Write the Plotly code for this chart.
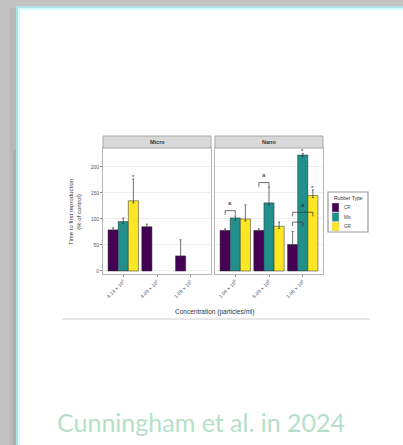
import plotly.graph_objects as go

W, H = 403, 445

# ---- data -------------------------------------------------------------
rubber_types = ["CR", "Mix", "GR"]
rubber_colors = ["#440154", "#21908C", "#FDE725"]

micro_conc = ["4.13 × 10<sup>3</sup>", "4.09 × 10<sup>4</sup>", "1.09 × 10<sup>5</sup>"]
nano_conc = ["1.06 × 10<sup>8</sup>", "5.09 × 10<sup>8</sup>", "1.06 × 10<sup>9</sup>"]

# time to first reproduction (% of control), one list per rubber type
micro_values = {
    "CR": [79, 85, 29],
    "Mix": [95, None, None],
    "GR": [135, None, None],
}
micro_err_up = {"CR": [4, 5, 31], "Mix": [7, 0, 0], "GR": [42, 0, 0]}

nano_values = {
    "CR": [78, 78, 51],
    "Mix": [102, 131, 223],
    "GR": [100, 86, 145],
}
nano_err_up = {"CR": [3, 3, 25], "Mix": [4, 30, 3], "GR": [27, 8, 11]}

y_ticks = [0, 50, 100, 150, 200]

# significance brackets in the Nano panel: (group, from type, to type, height, letter)
nano_brackets = [(0, "CR", "Mix", 116, "a"), (1, "CR", "Mix", 170, "a"),
                 (2, "CR", "GR", 113, ""), (2, "CR", "Mix", 94, "")]
# stars above single bars: (panel, group, type, height)
star_marks = [("x", 0, "GR", 181), ("x2", 2, "Mix", 230), ("x2", 2, "GR", 160)]
# letter above the nested brackets of the last Nano group
nested_letter = (2, "Mix", 127, "a")


def fx(x):
    return x / W


def fy(y):
    return 1 - y / H


slot = {t: (i - 1) * 0.3 for i, t in enumerate(rubber_types)}

fig = go.Figure()

for axis, cats, vals, errs in [("x", micro_conc, micro_values, micro_err_up),
                               ("x2", nano_conc, nano_values, nano_err_up)]:
    for t, c in zip(rubber_types, rubber_colors):
        fig.add_trace(go.Bar(
            x=cats, y=vals[t], name=t, marker_color=c,
            marker_line=dict(color="#2a2a2a", width=0.5),
            xaxis=axis, yaxis="y" if axis == "x" else "y2",
            showlegend=False,
            error_y=dict(type="data", symmetric=False, array=errs[t],
                         arrayminus=[min(e, 4) for e in errs[t]],
                         color="#333333", thickness=0.7, width=1),
        ))

axis_common = dict(showline=True, mirror=True, linecolor="#b5b5b5", linewidth=1,
                   zeroline=False, fixedrange=True)
tick_font = dict(size=5, color="#555", family="Liberation Sans")
fig.update_layout(
    width=W, height=H, autosize=False,
    margin=dict(l=0, r=0, t=0, b=0),
    paper_bgcolor="#c2c2c2", plot_bgcolor="white",
    barmode="group", bargap=0.1, bargroupgap=0,
    xaxis=dict(domain=[fx(103), fx(211)], anchor="y", type="category",
               range=[-0.6, 2.6], tickangle=-45, ticks="outside", ticklen=2,
               tickcolor="#888", tickfont=tick_font, showgrid=False, **axis_common),
    xaxis2=dict(domain=[fx(215), fx(323)], anchor="y2", type="category",
                range=[-0.6, 2.6], tickangle=-45, ticks="outside", ticklen=2,
                tickcolor="#888", tickfont=tick_font, showgrid=False, **axis_common),
    yaxis=dict(domain=[fy(274), fy(148)], anchor="x", range=[-5.8, 236.5],
               tickvals=y_ticks, ticks="outside", ticklen=2, tickcolor="#888",
               tickfont=tick_font,
               showgrid=True, gridcolor="#eeeeee", gridwidth=0.6, **axis_common),
    yaxis2=dict(domain=[fy(274), fy(148)], anchor="x2", range=[-5.8, 236.5],
                tickvals=y_ticks, showticklabels=False,
                showgrid=True, gridcolor="#eeeeee", gridwidth=0.6, **axis_common),
)

shapes = []
# slide backdrop: shadow, card and its border
shapes.append(dict(type="rect", xref="paper", yref="paper", x0=fx(10), x1=fx(17),
                   y0=0, y1=fy(8), fillcolor="#b8b8b8", line_width=0, layer="below"))
shapes.append(dict(type="rect", xref="paper", yref="paper", x0=fx(13), x1=fx(17),
                   y0=0, y1=fy(150), fillcolor="#acacac", line_width=0, layer="below"))
shapes.append(dict(type="rect", xref="paper", yref="paper", x0=fx(16), x1=1.01,
                   y0=-0.01, y1=fy(6), fillcolor="#ade3e3", line_width=0, layer="below"))
shapes.append(dict(type="rect", xref="paper", yref="paper", x0=fx(18), x1=1.01,
                   y0=-0.01, y1=fy(8), fillcolor="#d8fcfc", line_width=0, layer="below"))
shapes.append(dict(type="rect", xref="paper", yref="paper", x0=fx(20), x1=1.01,
                   y0=-0.01, y1=fy(10), fillcolor="white", line_width=0, layer="below"))
# base line under the figure
shapes.append(dict(type="line", xref="paper", yref="paper", x0=fx(62), x1=fx(370),
                   y0=fy(319), y1=fy(319), line=dict(color="#cdcdcd", width=1)))
# facet strips
for x0, x1 in [(103, 211), (215, 323)]:
    shapes.append(dict(type="rect", xref="paper", yref="paper", x0=fx(x0), x1=fx(x1),
                       y0=fy(148), y1=fy(136), fillcolor="#d9d9d9",
                       line=dict(color="#a8a8a8", width=1)))


def data_note(text, axis, x, y, size=6):
    return dict(text=text, x=x, y=y, xref=axis, yref="y" if axis == "x" else "y2",
                showarrow=False, xanchor="center", yanchor="middle",
                font=dict(size=size, color="#222", family="Liberation Sans"))


annotations = []
# significance brackets with their letters
for g, a, b, yv, letter in nano_brackets:
    xa, xb = g + slot[a], g + slot[b]
    for xs, ys in [((xa, xa), (yv - 8, yv)), ((xa, xb), (yv, yv)), ((xb, xb), (yv, yv - 8))]:
        shapes.append(dict(type="line", xref="x2", yref="y2", x0=xs[0], x1=xs[1],
                           y0=ys[0], y1=ys[1], line=dict(color="#333", width=0.7)))
    if letter:
        annotations.append(data_note(letter, "x2", (xa + xb) / 2, yv + 14))
g, t, yv, letter = nested_letter
annotations.append(data_note(letter, "x2", g + slot[t], yv))
for axis, g, t, yv in star_marks:
    annotations.append(data_note("*", axis, g + slot[t], yv))


def note(text, x, y, size, color="#333", xanchor="center", family="Liberation Sans", **kw):
    return dict(text=text, x=x, y=y, xref="paper", yref="paper", showarrow=False,
                xanchor=xanchor, yanchor="middle",
                font=dict(size=size, color=color, family=family), **kw)


# legend box
lx0, lx1, ly0, ly1 = 328, 368, 192, 232
shapes.append(dict(type="rect", xref="paper", yref="paper", x0=fx(lx0), x1=fx(lx1),
                   y0=fy(ly1), y1=fy(ly0), fillcolor="white",
                   line=dict(color="#9a9a9a", width=1.2)))
annotations.append(note("Rubber Type", fx(348), fy(198), 5))
for i, (t, c) in enumerate(zip(rubber_types, rubber_colors)):
    ky = 203 + i * 9.5
    shapes.append(dict(type="rect", xref="paper", yref="paper", x0=fx(332), x1=fx(339),
                       y0=fy(ky + 9), y1=fy(ky), fillcolor=c, line=dict(color="#ccc", width=0.5)))
    annotations.append(note(t, fx(342), fy(ky + 4.5), 4.5, color="#444", xanchor="left"))

# strip labels
for txt, xc in [("Micro", 157), ("Nano", 269)]:
    annotations.append(note("<b>" + txt + "</b>", fx(xc), fy(142), 5.5))

# axis titles
annotations.append(note("Concentration (particles/ml)", fx(214), fy(312), 6.5))
annotations.append(note("Time to first reproduction<br>(% of control)", fx(75), fy(212), 6,
                        textangle=-90))

# caption
annotations.append(note("Cunningham et al. in 2024", fx(55), fy(422), 25,
                        color="#b6dfca", xanchor="left", family="Lato"))

fig.update_layout(shapes=shapes, annotations=annotations)
fig.write_html("out.html", config={"displayModeBar": False})
